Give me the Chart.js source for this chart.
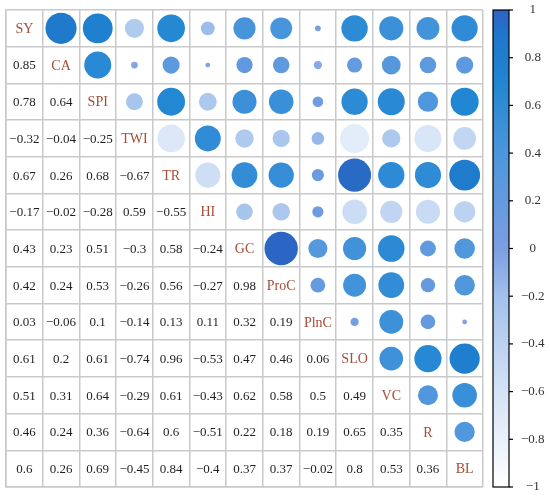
<!DOCTYPE html>
<html>
<head>
<meta charset="utf-8">
<script src="https://cdn.jsdelivr.net/npm/chart.js"></script>
<style>
  body { margin: 0; background: #fff; }
</style>
</head>
<body>
<canvas id="corrChart" width="550" height="497"></canvas>
<script>
var names = ['SY', 'CA', 'SPI', 'TWI', 'TR', 'HI', 'GC', 'ProC', 'PlnC', 'SLO', 'VC', 'R', 'BL'];

// lower triangle of the correlation matrix, one array per row
var rowCA   = [0.85];
var rowSPI  = [0.78, 0.64];
var rowTWI  = [-0.32, -0.04, -0.25];
var rowTR   = [0.67, 0.26, 0.68, -0.67];
var rowHI   = [-0.17, -0.02, -0.28, 0.59, -0.55];
var rowGC   = [0.43, 0.23, 0.51, -0.3, 0.58, -0.24];
var rowProC = [0.42, 0.24, 0.53, -0.26, 0.56, -0.27, 0.98];
var rowPlnC = [0.03, -0.06, 0.1, -0.14, 0.13, 0.11, 0.32, 0.19];
var rowSLO  = [0.61, 0.2, 0.61, -0.74, 0.96, -0.53, 0.47, 0.46, 0.06];
var rowVC   = [0.51, 0.31, 0.64, -0.29, 0.61, -0.43, 0.62, 0.58, 0.5, 0.49];
var rowR    = [0.46, 0.24, 0.36, -0.64, 0.6, -0.51, 0.22, 0.18, 0.19, 0.65, 0.35];
var rowBL   = [0.6, 0.26, 0.69, -0.45, 0.84, -0.4, 0.37, 0.37, -0.02, 0.8, 0.53, 0.36];
var lower = [[], rowCA, rowSPI, rowTWI, rowTR, rowHI, rowGC, rowProC, rowPlnC, rowSLO, rowVC, rowR, rowBL];

var cbTicks = [-1, -0.8, -0.6, -0.4, -0.2, 0, 0.2, 0.4, 0.6, 0.8, 1];

// colour map, -1 .. 1
var stops = [
  [-1, [255, 255, 255]],
  [-0.6, [212, 227, 246]],
  [-0.2, [162, 193, 236]],
  [0, [124, 158, 226]],
  [0.4, [76, 150, 220]],
  [0.7, [32, 134, 210]],
  [0.9, [30, 118, 202]],
  [1, [48, 98, 194]]
];
function colorFor(v) {
  for (var k = 1; k < stops.length; k++) {
    if (v <= stops[k][0]) {
      var a = stops[k - 1], b = stops[k];
      var t = (v - a[0]) / (b[0] - a[0]);
      var c = a[1].map(function (x, n) { return Math.round(x + (b[1][n] - x) * t); });
      return 'rgb(' + c.join(',') + ')';
    }
  }
  return 'rgb(' + stops[stops.length - 1][1].join(',') + ')';
}
function fmt(v) { return String(v).replace('-', '\u2212'); }

// circles go in the upper triangle
var points = [];
for (var i = 0; i < names.length; i++) {
  for (var j = i + 1; j < names.length; j++) {
    points.push({ x: names[j], y: names[i], v: lower[j][i] });
  }
}

var cellText = {
  id: 'cellText',
  afterDatasetsDraw: function (chart) {
    var ctx = chart.ctx, xs = chart.scales.x, ys = chart.scales.y;
    ctx.save();
    ctx.textAlign = 'center';
    ctx.textBaseline = 'middle';
    names.forEach(function (n, i) {
      var py = ys.getPixelForValue(i);
      for (var j = 0; j <= i; j++) {
        var px = xs.getPixelForValue(j);
        if (i === j) {
          ctx.fillStyle = '#a34e36';
          ctx.font = '14px "Liberation Serif"';
          ctx.fillText(n, px, py + 1);
        } else {
          ctx.fillStyle = '#1e1e1e';
          ctx.font = '13px "Liberation Serif"';
          ctx.fillText(fmt(lower[i][j]), px, py + 1);
        }
      }
    });

    // colour bar
    var cb = chart.scales.cb;
    var x0 = cb.left + 10, w = 16;
    var top = cb.getPixelForValue(1), bot = cb.getPixelForValue(-1);
    var grad = ctx.createLinearGradient(0, bot, 0, top);
    stops.forEach(function (s) { grad.addColorStop((s[0] + 1) / 2, colorFor(s[0])); });
    ctx.fillStyle = grad;
    ctx.fillRect(x0, top, w, bot - top);
    ctx.strokeStyle = '#000';
    ctx.lineWidth = 1.2;
    ctx.strokeRect(x0, top, w, bot - top);
    cbTicks.forEach(function (t) {
      var y = cb.getPixelForValue(t);
      ctx.beginPath();
      ctx.moveTo(x0 + w, y);
      ctx.lineTo(x0 + w + 4, y);
      ctx.stroke();
    });
    ctx.restore();
  }
};

var gridOpts = { offset: true, color: '#c9c9c9', lineWidth: 1.5, drawTicks: false };

new Chart(document.getElementById('corrChart'), {
  type: 'scatter',
  data: {
    datasets: [{
      data: points,
      pointBorderWidth: 0,
      pointBackgroundColor: function (c) { return c.raw ? colorFor(c.raw.v) : '#000'; },
      pointRadius: function (c) {
        var cell = c.chart.chartArea ? c.chart.chartArea.width / names.length : 36.7;
        return c.raw ? 0.46 * cell * Math.sqrt(Math.abs(c.raw.v)) : 0;
      }
    }]
  },
  options: {
    responsive: false,
    animation: false,
    layout: { autoPadding: false, padding: { left: 6, top: 10, right: 0, bottom: 10 } },
    plugins: { legend: { display: false }, tooltip: { enabled: false } },
    scales: {
      x: {
        type: 'category', labels: names, offset: true,
        ticks: { display: false },
        grid: gridOpts,
        border: { color: '#c9c9c9', width: 1.5 }
      },
      y: {
        type: 'category', labels: names, offset: true,
        ticks: { display: false },
        grid: gridOpts,
        border: { color: '#c9c9c9', width: 1.5 }
      },
      cb: {
        type: 'linear', position: 'right', min: -1, max: 1,
        afterBuildTicks: function (s) { s.ticks = cbTicks.map(function (v) { return { value: v }; }); },
        afterFit: function (s) { s.width = 67; s.paddingTop = 0; s.paddingBottom = 0; },
        ticks: {
          padding: 8,
          crossAlign: 'center',
          color: '#333',
          font: { family: 'Liberation Serif', size: 13 },
          callback: function (v) { return fmt(v); }
        },
        grid: { drawOnChartArea: false, drawTicks: true, tickLength: 30, tickColor: 'rgba(0,0,0,0)' },
        border: { display: false }
      }
    }
  },
  plugins: [cellText]
});
</script>
</body>
</html>
